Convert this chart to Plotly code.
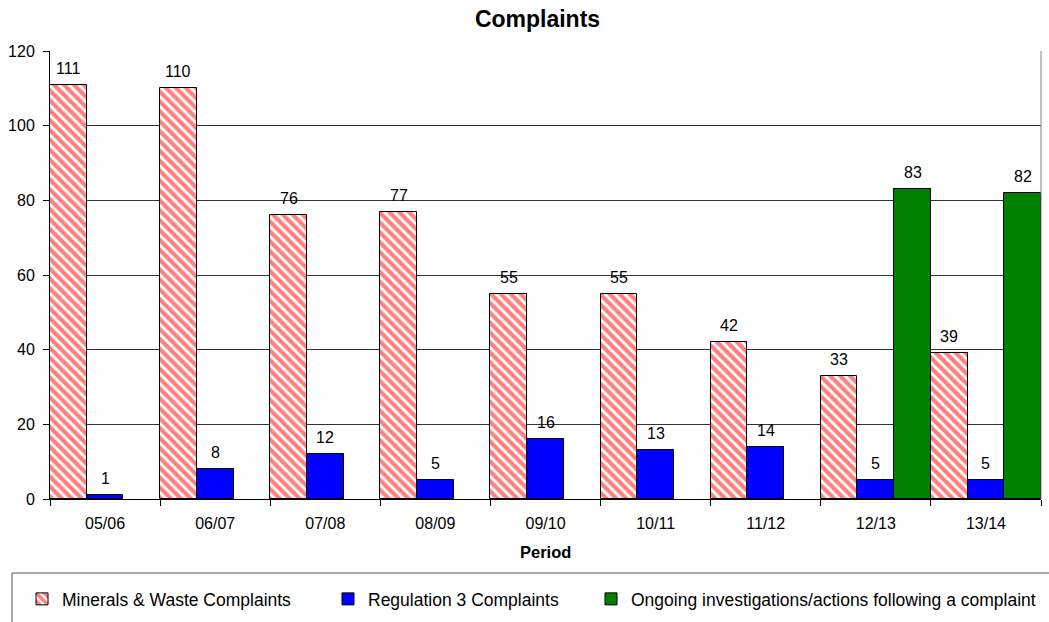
import plotly.graph_objects as go

# Complaint counts by reporting period
periods = ["05/06", "06/07", "07/08", "08/09", "09/10", "10/11", "11/12", "12/13", "13/14"]
minerals_waste = [111, 110, 76, 77, 55, 55, 42, 33, 39]
regulation_3 = [1, 8, 12, 5, 16, 13, 14, 5, 5]
ongoing_periods = ["12/13", "13/14"]
ongoing = [83, 82]

FONT = "Liberation Sans, Arial, sans-serif"
W, H = 1049, 622
M_L, M_R, M_T, M_B = 50, 8, 51, 123
PLOT_W = W - M_L - M_R
PLOT_H = H - M_T - M_B
SLOT = PLOT_W / len(periods) / 3  # width of one bar in a group


def px_x(px):
    return (px - M_L) / PLOT_W


def px_y(py):
    return (H - M_B - py) / PLOT_H


fig = go.Figure()
fig.add_trace(go.Bar(
    name="Minerals & Waste Complaints", x=periods, y=minerals_waste,
    marker=dict(color="white", line=dict(color="black", width=1),
                pattern=dict(shape="\\", fgcolor="#FF0000", bgcolor="white",
                             size=7, solidity=0.6)),
    legend="legend",
))
fig.add_trace(go.Bar(
    name="Regulation 3 Complaints", x=periods, y=regulation_3,
    marker=dict(color="#0000FF", line=dict(color="black", width=1)),
    legend="legend2",
))
fig.add_trace(go.Bar(
    name="Ongoing investigations/actions following a complaint",
    x=ongoing_periods, y=ongoing,
    marker=dict(color="#008000", line=dict(color="black", width=1)),
    legend="legend3",
))

# value labels above each bar
annotations = []
for slot, (xs, ys) in enumerate([(periods, minerals_waste),
                                 (periods, regulation_3),
                                 (ongoing_periods, ongoing)]):
    for xv, yv in zip(xs, ys):
        annotations.append(dict(
            x=xv, y=yv, xref="x", yref="y", text=str(yv), showarrow=False,
            xshift=(slot - 1) * SLOT, yshift=6, yanchor="bottom",
            font=dict(family=FONT, size=16, color="black"),
        ))

annotations.append(dict(
    x=0.5, y=px_y(552), xref="paper", yref="paper", text="<b>Period</b>",
    showarrow=False, yanchor="middle",
    font=dict(family=FONT, size=16.5, color="black"),
))

legend_common = dict(xref="container", yref="container", xanchor="left",
                     yanchor="middle", y=(H - 599) / H, bgcolor="rgba(0,0,0,0)",
                     borderwidth=0, orientation="h",
                     font=dict(family=FONT, size=17.5, color="black"))

fig.update_layout(
    width=W, height=H,
    margin=dict(l=M_L, r=M_R, t=M_T, b=M_B),
    paper_bgcolor="white", plot_bgcolor="white",
    barmode="group", bargap=0, bargroupgap=0,
    title=dict(text="<b>Complaints</b>", x=537.5 / W, xanchor="center",
               xref="container", y=(H - 19) / H, yanchor="middle",
               yref="container", font=dict(family=FONT, size=23, color="black")),
    font=dict(family=FONT, color="black", size=16),
    xaxis=dict(
        type="category", tickson="boundaries", ticks="outside", ticklen=6,
        tickcolor="black", showline=True, linecolor="black", linewidth=1,
        showgrid=False, tickfont=dict(family=FONT, size=16, color="black"),
        ticklabelstandoff=10,
    ),
    yaxis=dict(
        range=[0, 120], dtick=20, ticks="outside", ticklen=6, tickcolor="black",
        showline=True, linecolor="black", linewidth=1, showgrid=True,
        gridcolor="#333333", gridwidth=1, zeroline=False,
        tickfont=dict(family=FONT, size=16, color="black"),
        ticklabelstandoff=5,
    ),
    showlegend=True,
    legend=dict(x=22 / W, **legend_common),
    legend2=dict(x=328 / W, **legend_common),
    legend3=dict(x=591 / W, **legend_common),
    annotations=annotations,
    shapes=[
        # plot area frame on the right edge
        dict(type="line", xref="paper", yref="paper", x0=1, x1=1, y0=0, y1=1,
             line=dict(color="#808080", width=1)),
        # legend frame
        dict(type="rect", xref="paper", yref="paper",
             x0=px_x(12), x1=px_x(1070), y0=px_y(573), y1=px_y(650),
             line=dict(color="#555555", width=1), fillcolor="rgba(0,0,0,0)"),
    ],
)

fig.write_html("out.html")
